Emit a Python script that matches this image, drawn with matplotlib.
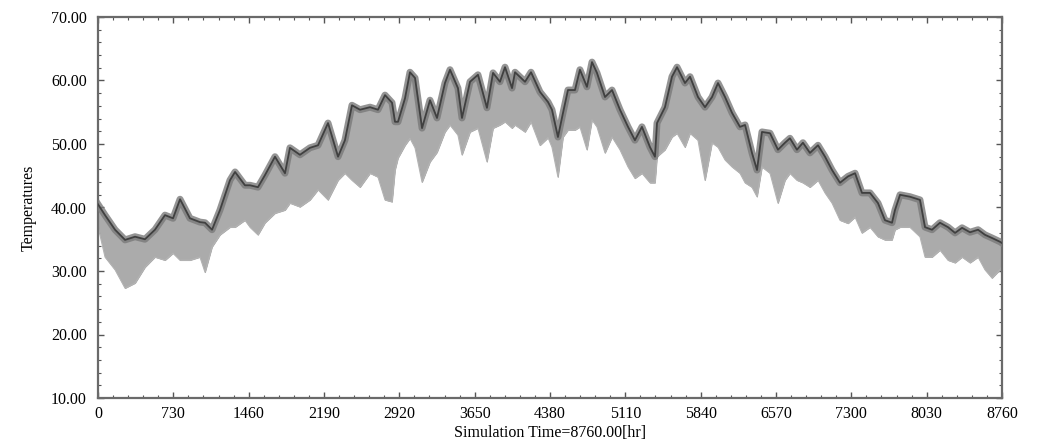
import matplotlib
matplotlib.use("Agg")
import matplotlib.pyplot as plt
from matplotlib.ticker import AutoMinorLocator, FormatStrFormatter

# Simulation hour at which the envelope was read
hours = [0, 68, 165, 262, 359, 455, 552, 649, 727, 795, 891, 988, 1037, 1105, 1182,
         1279, 1328, 1424, 1473, 1550, 1618, 1715, 1812, 1860, 1957, 2054, 2132, 2229,
         2326, 2393, 2461, 2539, 2636, 2713, 2781, 2849, 2878, 2907, 2975, 3023, 3072,
         3140, 3217, 3285, 3362, 3411, 3488, 3527, 3605, 3682, 3769, 3828, 3895, 3944,
         4012, 4041, 4138, 4196, 4283, 4361, 4399, 4457, 4506, 4554, 4622, 4670, 4738,
         4787, 4835, 4913, 4981, 5058, 5136, 5203, 5271, 5349, 5397, 5417, 5494, 5562,
         5611, 5688, 5737, 5814, 5882, 5950, 6008, 6076, 6144, 6221, 6270, 6337, 6386,
         6434, 6512, 6589, 6657, 6705, 6773, 6831, 6899, 6977, 7045, 7113, 7190, 7268,
         7336, 7403, 7481, 7558, 7626, 7694, 7723, 7772, 7868, 7965, 8014, 8082, 8159,
         8237, 8305, 8373, 8450, 8528, 8595, 8663, 8741, 8760]

# Upper (dark) series: daily peak envelope
upper_top = [40.5, 38.8, 36.5, 34.9, 35.4, 35.0, 36.5, 38.8, 38.3, 41.3, 38.3, 37.7, 37.6,
             36.5, 39.6, 44.3, 45.6, 43.5, 43.5, 43.2, 45.1, 48.0, 45.4, 49.4, 48.3, 49.4,
             49.8, 53.3, 48.0, 50.6, 56.1, 55.4, 55.8, 55.4, 57.7, 56.5, 53.5, 53.5, 57.2,
             61.3, 60.4, 52.5, 56.9, 54.1, 59.6, 61.7, 58.8, 54.1, 59.8, 60.9, 55.7, 61.2,
             59.8, 62.1, 58.8, 61.3, 59.8, 61.3, 58.2, 56.6, 55.4, 51.1, 54.9, 58.5, 58.5,
             61.7, 59.0, 62.9, 61.2, 57.4, 58.5, 55.4, 52.7, 50.6, 52.7, 49.5, 48.0, 53.3,
             55.8, 60.6, 62.1, 59.6, 60.6, 57.4, 55.8, 57.4, 59.6, 57.4, 54.9, 52.7, 53.0,
             48.6, 45.9, 51.9, 51.7, 49.1, 50.2, 50.9, 49.1, 50.2, 48.6, 49.8, 48.0, 45.9,
             43.9, 44.9, 45.4, 42.3, 42.3, 40.7, 38.0, 37.6, 39.6, 42.0, 41.7, 41.2, 36.9,
             36.5, 37.6, 36.9, 36.0, 36.8, 36.1, 36.5, 35.7, 35.2, 34.6, 34.4]

# Lower (light) series: nightly trough envelope
lower_bot = [37.0, 32.2, 30.2, 27.3, 28.1, 30.6, 32.2, 31.7, 32.8, 31.7, 31.7, 32.2, 29.8,
             33.8, 35.7, 36.9, 36.9, 38.0, 36.9, 35.7, 37.6, 39.1, 39.6, 40.7, 40.1, 41.2,
             42.8, 41.2, 44.3, 45.4, 44.3, 43.2, 45.4, 44.8, 41.2, 40.9, 45.9, 47.8, 49.8,
             50.9, 49.4, 44.0, 47.2, 48.7, 51.9, 53.0, 51.4, 48.3, 51.9, 52.5, 47.2, 52.5,
             53.0, 53.5, 52.5, 53.0, 51.9, 53.5, 49.8, 51.0, 49.5, 44.8, 51.1, 52.2, 52.2,
             52.7, 49.1, 53.8, 52.7, 48.6, 51.1, 49.1, 46.4, 44.6, 45.4, 43.9, 43.9, 48.0,
             49.1, 51.1, 51.7, 49.5, 51.7, 50.6, 44.3, 50.2, 49.5, 47.5, 46.4, 45.4, 43.9,
             43.2, 41.7, 46.4, 45.4, 40.7, 44.3, 45.4, 44.3, 43.9, 43.2, 44.3, 42.3, 40.7,
             38.0, 37.5, 38.5, 36.0, 36.9, 35.4, 34.9, 34.9, 36.5, 36.9, 36.9, 35.4, 32.2,
             32.2, 33.3, 31.7, 31.3, 32.2, 31.3, 32.2, 30.2, 28.9, 30.2, 30.8]

light_start = 52.5  # initial value of the light series at t = 0

x_ticks = [0, 730, 1460, 2190, 2920, 3650, 4380, 5110, 5840, 6570, 7300, 8030, 8760]
y_ticks = [10, 20, 30, 40, 50, 60, 70]

plt.rcParams['font.family'] = ['Liberation Serif', 'DejaVu Serif']

fig = plt.figure(figsize=(10.41, 4.48), dpi=100)
ax = fig.add_axes([98 / 1041, 1 - 398 / 448, (1002 - 98) / 1041, (398 - 17) / 448])

ax.fill_between(hours, lower_bot, upper_top, color='#ababab', linewidth=0.5,
                edgecolor='#a0a0a0', zorder=2)
ax.plot(hours, lower_bot, color='#b4b4b4', lw=0.8, zorder=2)
ax.plot(hours, upper_top, color='#7a7a7a', lw=5.0, alpha=0.8, zorder=3)
ax.plot(hours, upper_top, color='#404040', lw=1.3, zorder=4)
ax.vlines(hours[0], lower_bot[0], light_start, color='#b5b5b5', lw=1.2, zorder=2)

ax.set_xlim(x_ticks[0], x_ticks[-1])
ax.set_ylim(y_ticks[0], y_ticks[-1])
ax.set_xticks(x_ticks)
ax.set_yticks(y_ticks)
ax.yaxis.set_major_formatter(FormatStrFormatter('%.2f'))
ax.xaxis.set_minor_locator(AutoMinorLocator(5))
ax.yaxis.set_minor_locator(AutoMinorLocator(5))
ax.tick_params(which='both', direction='in', colors='#555555', labelcolor='black',
               labelsize=11.5, top=True, right=True)
ax.tick_params(which='major', length=4, width=1)
ax.tick_params(which='minor', length=2.5, width=0.8)
ax.tick_params(axis='y', pad=8)
ax.tick_params(axis='x', pad=6)

for s in ax.spines.values():
    s.set_color('#6a6a6a')
    s.set_linewidth(1.6)

ax.set_xlabel('Simulation Time=8760.00[hr]', fontsize=11.5, labelpad=2)
ax.set_ylabel('Temperatures', fontsize=11.5, labelpad=10)

fig.savefig('out.png', dpi=100)
